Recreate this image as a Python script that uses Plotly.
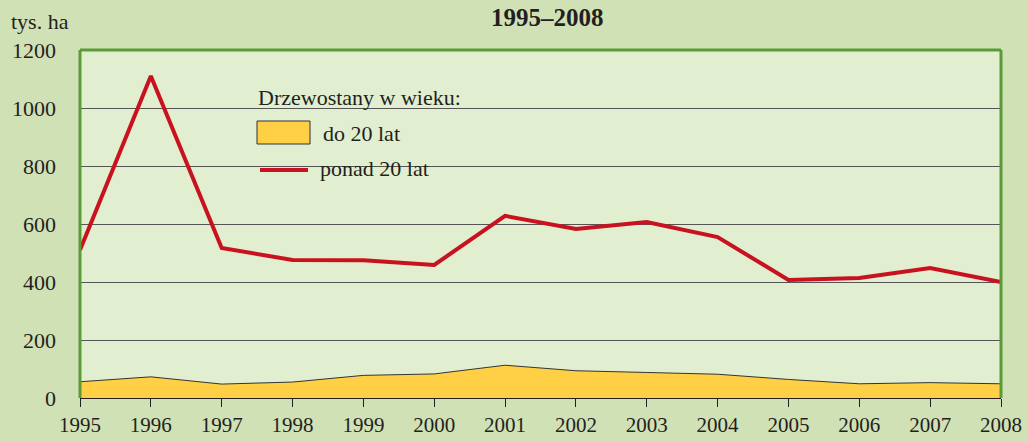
import plotly.graph_objects as go

years = list(range(1995, 2009))
do_20_lat = [56, 73, 48, 55, 78, 83, 113, 94, 88, 82, 64, 49, 53, 49]
ponad_20_lat = [510, 1110, 517, 476, 475, 459, 628, 583, 607, 555, 407, 414, 448, 400]
y_ticks = [0, 200, 400, 600, 800, 1000, 1200]
legend_title = "Drzewostany w wieku:"
series_names = ["do 20 lat", "ponad 20 lat"]

FONT = "Liberation Serif"
PAPER = "#d1e1b6"
PLOT = "#e1eecf"
YELLOW = "#ffcf45"
RED = "#c8121f"
GREEN = "#5a9b38"
INK = "#231f20"

W, H = 1028, 442
# plot area in window pixels: x 80..1001, y 50..398
PL, PR, PT, PB = 80, 1001, 50, 398
L, R, T, B = PL, W - PR, PT, H - PB
PW, PH = PR - PL, PB - PT


def px(xp):
    return (xp - PL) / PW


def py(yp):
    return (PB - yp) / PH


fig = go.Figure()
fig.add_trace(go.Scatter(
    x=years, y=do_20_lat, name=series_names[0], mode="lines",
    fill="tozeroy", fillcolor=YELLOW,
    line=dict(color="#333333", width=1),
))
fig.add_trace(go.Scatter(
    x=years, y=ponad_20_lat, name=series_names[1], mode="lines",
    line=dict(color=RED, width=4),
))

fig.update_layout(
    width=W, height=H,
    margin=dict(l=L, r=R, t=T, b=B),
    paper_bgcolor=PAPER, plot_bgcolor=PLOT,
    font=dict(family=FONT, size=22, color=INK),
    showlegend=False,
    xaxis=dict(
        range=[1995, 2008], tickmode="array", tickvals=years,
        ticktext=[str(y) for y in years],
        showgrid=False, zeroline=False, automargin=False,
        showline=True, linecolor=INK, linewidth=1,
        ticks="outside", ticklen=8, tickcolor=INK,
        tickfont=dict(family=FONT, size=21),
    ),
    yaxis=dict(
        range=[0, 1200], tickmode="array", tickvals=y_ticks,
        showgrid=True, gridcolor="#555555", gridwidth=1,
        zeroline=False, showline=False, ticks="", automargin=False,
        ticklabelstandoff=23,
        tickfont=dict(family=FONT, size=22),
    ),
    annotations=[
        dict(text="<b>1995–2008</b>", xref="paper", yref="paper",
             x=px(547), y=py(18), xanchor="center", yanchor="middle",
             showarrow=False, font=dict(family=FONT, size=25)),
        dict(text="tys. ha", xref="paper", yref="paper",
             x=px(9), y=py(22), xanchor="left", yanchor="middle",
             showarrow=False, font=dict(family=FONT, size=22)),
        # legend texts
        dict(text=legend_title, xref="paper", yref="paper",
             x=px(256), y=py(97), xanchor="left", yanchor="middle",
             showarrow=False, font=dict(family=FONT, size=22)),
        dict(text=series_names[0], xref="paper", yref="paper",
             x=px(321), y=py(133), xanchor="left", yanchor="middle",
             showarrow=False, font=dict(family=FONT, size=22)),
        dict(text=series_names[1], xref="paper", yref="paper",
             x=px(318), y=py(168), xanchor="left", yanchor="middle",
             showarrow=False, font=dict(family=FONT, size=22)),
    ],
    shapes=[
        # legend background masking gridlines
        dict(type="rect", xref="paper", yref="paper",
             x0=px(247), x1=px(450), y0=py(185), y1=py(80),
             fillcolor=PLOT, line=dict(width=0), layer="between"),
        # legend symbols
        dict(type="rect", xref="paper", yref="paper",
             x0=px(257), x1=px(310), y0=py(144), y1=py(121),
             fillcolor=YELLOW, line=dict(color="#333333", width=1), layer="above"),
        dict(type="line", xref="paper", yref="paper",
             x0=px(260), x1=px(308), y0=py(170), y1=py(170),
             line=dict(color=RED, width=4), layer="above"),
        # green frame
        dict(type="line", xref="paper", yref="paper", x0=0, x1=0, y0=0, y1=1,
             line=dict(color=GREEN, width=3), layer="above"),
        dict(type="line", xref="paper", yref="paper", x0=1, x1=1, y0=0, y1=1,
             line=dict(color=GREEN, width=3), layer="above"),
        dict(type="line", xref="paper", yref="paper", x0=0, x1=1, y0=1, y1=1,
             line=dict(color=GREEN, width=3), layer="above"),
    ],
)

fig.write_html(
    "out.html",
    config={"displayModeBar": False},
    post_script="document.body.style.margin='0';"
                "document.body.style.overflow='hidden';"
                "document.body.style.background='" + PAPER + "';",
)
